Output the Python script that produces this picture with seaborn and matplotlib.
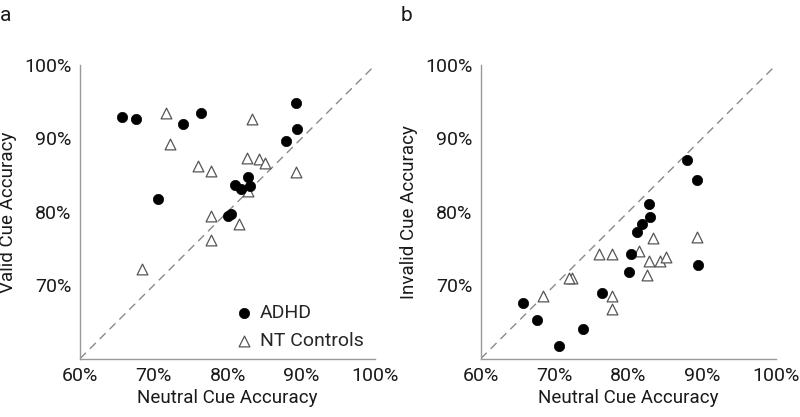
import numpy as np
import pandas as pd
import matplotlib
matplotlib.use("Agg")
import matplotlib.pyplot as plt
import seaborn as sns
from matplotlib.ticker import FuncFormatter

# Panel a: neutral vs valid cue accuracy (%)
adhd_neutral = [65.7, 67.6, 73.9, 76.4, 89.3, 89.4, 87.9, 70.6, 81.0, 81.8, 82.8, 83.0, 80.0, 80.5]
adhd_valid = [92.9, 92.6, 92.0, 93.4, 94.8, 91.3, 89.7, 81.8, 83.7, 83.1, 84.8, 83.5, 79.4, 79.7]
nt_neutral_a = [71.7, 83.3, 72.2, 82.6, 84.2, 85.0, 76.0, 77.8, 89.3, 82.8, 77.8, 81.5, 77.8, 68.4]
nt_valid = [93.5, 92.7, 89.3, 87.4, 87.2, 86.7, 86.3, 85.5, 85.4, 82.9, 79.5, 78.4, 76.2, 72.2]

# Panel b: neutral vs invalid cue accuracy (%)
adhd_neutral_b = [87.9, 89.3, 82.8, 82.9, 81.9, 81.1, 80.4, 80.1, 89.4, 76.4, 65.7, 67.6, 73.9, 70.6]
adhd_invalid = [87.1, 84.3, 81.0, 79.3, 78.35, 77.2, 74.2, 71.8, 72.8, 68.9, 67.6, 65.2, 64.1, 61.75]
nt_neutral_b = [83.3, 89.3, 81.4, 76.0, 77.8, 82.8, 84.3, 85.1, 82.5, 72.3, 68.4, 77.8, 77.8, 72.0]
nt_invalid = [76.5, 76.6, 74.7, 74.25, 74.25, 73.3, 73.3, 73.8, 71.35, 71.0, 68.6, 68.6, 66.7, 71.0]

ticks_x = [60, 70, 80, 90, 100]
ticks_y = [70, 80, 90, 100]

sns.set_theme(style="white")
plt.rcParams['font.family'] = ['Roboto', 'DejaVu Sans']
plt.rcParams['font.size'] = 12

fig = plt.figure(figsize=(8, 4.17), dpi=100)
ax_a = fig.add_axes([0.100, 0.140, 0.369, 0.704])
ax_b = fig.add_axes([0.601, 0.140, 0.369, 0.704])

pct = FuncFormatter(lambda v, _: f"{v:.0f}%")


def draw_panel(ax, x_adhd, y_adhd, x_nt, y_nt, ylabel, letter, show_legend=False):
    ax.plot([60, 100], [60, 100], color="#8a8a8a", lw=1.0, ls=(0, (6, 4)), zorder=1)
    sns.scatterplot(x=x_adhd, y=y_adhd, ax=ax, marker="o", s=55, color="black",
                    edgecolor="black", linewidth=0.5, label="ADHD", zorder=3)
    sns.scatterplot(x=x_nt, y=y_nt, ax=ax, marker="^", s=60, facecolor="white",
                    edgecolor="#555555", linewidth=0.9, label="NT Controls", zorder=2)
    ax.set_xlim(60, 100)
    ax.set_ylim(60, 100)
    ax.set_xticks(ticks_x)
    ax.set_yticks(ticks_y)
    ax.xaxis.set_major_formatter(pct)
    ax.yaxis.set_major_formatter(pct)
    ax.tick_params(length=0, labelsize=14, colors="#1a1a1a", pad=6)
    for side in ["top", "right"]:
        ax.spines[side].set_visible(False)
    for side in ["left", "bottom"]:
        ax.spines[side].set_color("#999999")
        ax.spines[side].set_linewidth(1.0)
    ax.set_xlabel("Neutral Cue Accuracy", fontsize=13.5, color="#1a1a1a", labelpad=3)
    ax.set_ylabel(ylabel, fontsize=13.5, color="#1a1a1a", labelpad=5)
    ax.text(-0.27, 1.2, letter, transform=ax.transAxes, fontsize=15,
            color="#1a1a1a", va="top", ha="left")
    if show_legend:
        ax.legend(loc="lower right", bbox_to_anchor=(1.0, -0.01), frameon=False,
                  fontsize=14, handletextpad=0.2, labelspacing=0.5,
                  borderaxespad=0.2, handlelength=1.2)
    else:
        ax.get_legend().remove()


draw_panel(ax_a, adhd_neutral, adhd_valid, nt_neutral_a, nt_valid,
           "Valid Cue Accuracy", "a", show_legend=True)
draw_panel(ax_b, adhd_neutral_b, adhd_invalid, nt_neutral_b, nt_invalid,
           "Invalid Cue Accuracy", "b")

fig.savefig("out.png", dpi=100, facecolor="white")
